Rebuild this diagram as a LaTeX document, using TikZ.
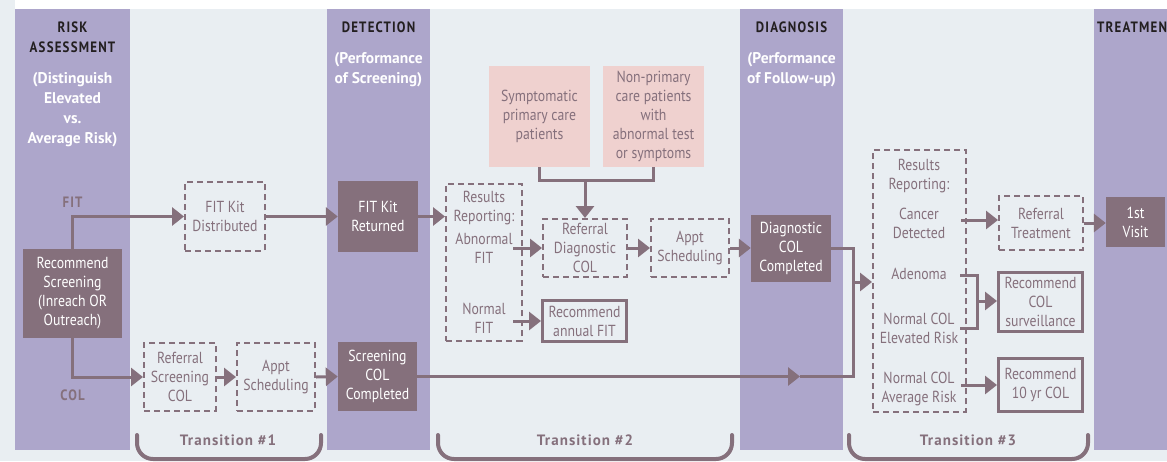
\documentclass[tikz,border=0pt]{standalone}
\usepackage{fontspec}
\setmainfont{PT Sans}[FakeStretch=0.86]
\newfontfamily\hdfont{PT Sans}[FakeStretch=0.86,LetterSpace=8]
\newfontfamily\subfont{PT Sans}
\newfontfamily\trfont{PT Sans}[LetterSpace=7]
\usetikzlibrary{arrows.meta}
\definecolor{bgc}{HTML}{E9EEF2}
\definecolor{colp}{HTML}{ADA6CB}
\definecolor{mauve}{HTML}{85707C}
\definecolor{pinkc}{HTML}{EFD1CF}
\definecolor{hdc}{HTML}{231F20}
\newcommand{\bodyf}{\fontsize{16}{19}\selectfont}
\newcommand{\hdf}{\hdfont\bfseries\fontsize{15}{20}\selectfont}
\newcommand{\subf}{\subfont\bfseries\fontsize{15.5}{20}\selectfont}
\newcommand{\trf}{\trfont\bfseries\fontsize{15}{20}\selectfont}
\tikzset{
 darkbox/.style={fill=mauve, text=white, align=center, inner sep=0pt, font=\bodyf},
 dbox/.style={draw=mauve, line width=2.4pt, dash pattern=on 6pt off 4pt, text=mauve, align=center, inner sep=0pt, font=\bodyf},
 sbox/.style={draw=mauve, line width=2.6pt, text=mauve, align=center, inner sep=0pt, font=\bodyf},
 pbox/.style={fill=pinkc, text=mauve, align=center, inner sep=0pt, font=\bodyf},
 tx/.style={text=mauve, align=center, inner sep=0pt, font=\bodyf},
 hd/.style={text=hdc, anchor=base, inner sep=0pt, font=\hdf},
 sub/.style={text=white, anchor=base, inner sep=0pt, font=\subf},
 lab/.style={text=mauve, anchor=base, inner sep=0pt, font=\hdf},
 trl/.style={text=mauve, anchor=base, inner sep=0pt, font=\trf},
 wire/.style={draw=mauve, line width=3pt},
 conn/.style={wire, -{Triangle[length=12pt,width=18pt]}},
 brk/.style={draw=mauve, line width=4pt, rounded corners=16pt, line cap=round},
}
\begin{document}
\begin{tikzpicture}[x=1pt,y=-1pt]
\useasboundingbox (0,0) rectangle (1167,461);
\fill[bgc] (0,0) rectangle (1167,461);
\fill[white] (15,0) rectangle (1167,9);
% columns
\fill[colp] (15,9) rectangle (130,450);
\fill[colp] (327,9) rectangle (430,450);
\fill[colp] (740,9) rectangle (843,450);
\fill[colp] (1094,9) rectangle (1167,450);
% headers
\node[hd] (h1a) at (72.5,32) {RISK};
\node[hd] (h1b) at (72.5,52) {ASSESSMENT};
\node[sub] (s1a) at (72.5,83) {(Distinguish};
\node[sub] (s1b) at (72.5,103) {Elevated};
\node[sub] (s1c) at (72.5,123) {vs.};
\node[sub] (s1d) at (72.5,143) {Average Risk)};
\node[hd] (h2) at (378.5,32) {DETECTION};
\node[sub] (s2a) at (378.5,63) {(Performance};
\node[sub] (s2b) at (378.5,83) {of Screening)};
\node[hd] (h3) at (791.5,32) {DIAGNOSIS};
\node[sub] (s3a) at (791.5,63) {(Performance};
\node[sub] (s3b) at (791.5,83) {of Follow-up)};
\node[hd, anchor=base west] (h4) at (1097,32) {TREATMEN};
\node[lab] (lfit) at (72.5,207) {FIT};
\node[lab] (lcol) at (72.5,400) {COL};
% nodes
\node[darkbox, minimum width=99pt, minimum height=89pt] (rec) at (72.5,293.5) {Recommend\\Screening\\(Inreach OR\\Outreach)};
\node[dbox, minimum width=79.6pt, minimum height=68.6pt] (fkd) at (225,216.5) {FIT Kit\\Distributed};
\node[darkbox, minimum width=80pt, minimum height=71pt] (fkr) at (378,216.5) {FIT Kit\\Returned};
\node[dbox, minimum width=71.6pt, minimum height=67.6pt] (rsc) at (180,377) {Referral\\Screening\\COL};
\node[dbox, minimum width=77.6pt, minimum height=67.6pt] (aps1) at (276,377) {Appt\\Scheduling};
\node[darkbox, minimum width=79pt, minimum height=69pt] (scc) at (377.5,376.5) {Screening\\COL\\Completed};
\node[pbox, minimum width=101pt, minimum height=101pt] (sym) at (539.5,116.5) {Symptomatic\\primary care\\patients};
\node[pbox, minimum width=101pt, minimum height=101pt] (nonp) at (653.5,116.5) {Non-primary\\care patients\\with\\abnormal test\\or symptoms};
\node[dbox, minimum width=75.6pt, minimum height=156.6pt] (rr2) at (484,262.5) {};
\node[tx] (t2a) at (484,208) {Results\\Reporting:};
\node[tx] (t2b) at (484,248.5) {Abnormal\\FIT};
\node[tx] (t2c) at (484,318.5) {Normal\\FIT};
\node[dbox, minimum width=83.6pt, minimum height=57.6pt] (rdc) at (585,248) {Referral\\Diagnostic\\COL};
\node[dbox, minimum width=77.6pt, minimum height=57.6pt] (aps2) at (690,248) {Appt\\Scheduling};
\node[sbox, minimum width=84.4pt, minimum height=41.4pt] (raf) at (584.5,321) {Recommend\\annual FIT};
\node[darkbox, minimum width=80pt, minimum height=67pt] (dcc) at (791,248.5) {Diagnostic\\COL\\Completed};
\node[dbox, minimum width=92.6pt, minimum height=261.6pt] (rr3) at (919.5,281) {};
\node[tx] (t3a) at (919,176.5) {Results\\Reporting:};
\node[tx] (t3b) at (919,223.5) {Cancer\\Detected};
\node[tx] (t3c) at (919,274) {Adenoma};
\node[tx] (t3d) at (919,328) {Normal COL\\Elevated Risk};
\node[tx] (t3e) at (919,388.5) {Normal COL\\Average Risk};
\node[dbox, minimum width=83.6pt, minimum height=53.6pt] (rt) at (1041,223) {Referral\\Treatment};
\node[sbox, minimum width=84.4pt, minimum height=59.4pt] (rcs) at (1040.5,302) {Recommend\\COL\\surveillance};
\node[sbox, minimum width=84.4pt, minimum height=53.4pt] (r10) at (1040.5,385) {Recommend\\10 yr COL};
\node[darkbox, minimum width=59pt, minimum height=50pt] (v1) at (1135.5,222) {1st\\Visit};
% coordinates
\coordinate (pj) at (585,180);
\coordinate (ab) at (513,248);
\coordinate (nf) at (513,321);
\coordinate (mk) at (800,376.5);
\coordinate (j3) at (853,376.5);
\coordinate (j4) at (853,282);
\coordinate (cd) at (961,220);
\coordinate (ad) at (960,275);
\coordinate (ne) at (960,328);
\coordinate (jn) at (977,301);
\coordinate (av) at (961,385);
% connectors
\draw[conn] (rec.north) |- (fkd.west);
\draw[conn] (rec.south) |- (rsc.west);
\draw[conn] (fkd.east) -- (fkr.west);
\draw[conn] (fkr.east) -- (fkr.east -| rr2.west);
\draw[conn] (rsc.east) -- (aps1.west);
\draw[conn] (aps1.east) -- (scc.west);
\draw[wire] (sym.south) |- (pj) -| (nonp.south);
\draw[conn] (pj) -- (rdc.north);
\draw[conn] (ab) -- (rdc.west);
\draw[conn] (nf) -- (raf.west);
\draw[conn] (rdc.east) -- (aps2.west);
\draw[conn] (aps2.east) -- (aps2.east -| dcc.west);
\draw[conn] (scc.east) -- (mk);
\draw[wire] (mk) -- (j3) |- (dcc.east);
\draw[conn] (j4) -- (j4 -| rr3.west);
\draw[conn] (cd) -- (cd -| rt.west);
\draw[conn] (rt.east) -- (rt.east -| v1.west);
\draw[wire] (ad) -| (jn) |- (ne);
\draw[conn] (jn) -- (jn -| rcs.west);
\draw[conn] (av) -- (av -| r10.west);
% transitions
\draw[brk] (137,435) -- (137,459) -- (321,459) -- (321,435);
\draw[brk] (438,435) -- (438,459) -- (732,459) -- (732,435);
\draw[brk] (849,435) -- (849,459) -- (1088,459) -- (1088,435);
\node[trl] (tr1) at (228,445) {Transition \#1};
\node[trl] (tr2) at (585,445) {Transition \#2};
\node[trl] (tr3) at (968,445) {Transition \#3};
\end{tikzpicture}
\end{document}
